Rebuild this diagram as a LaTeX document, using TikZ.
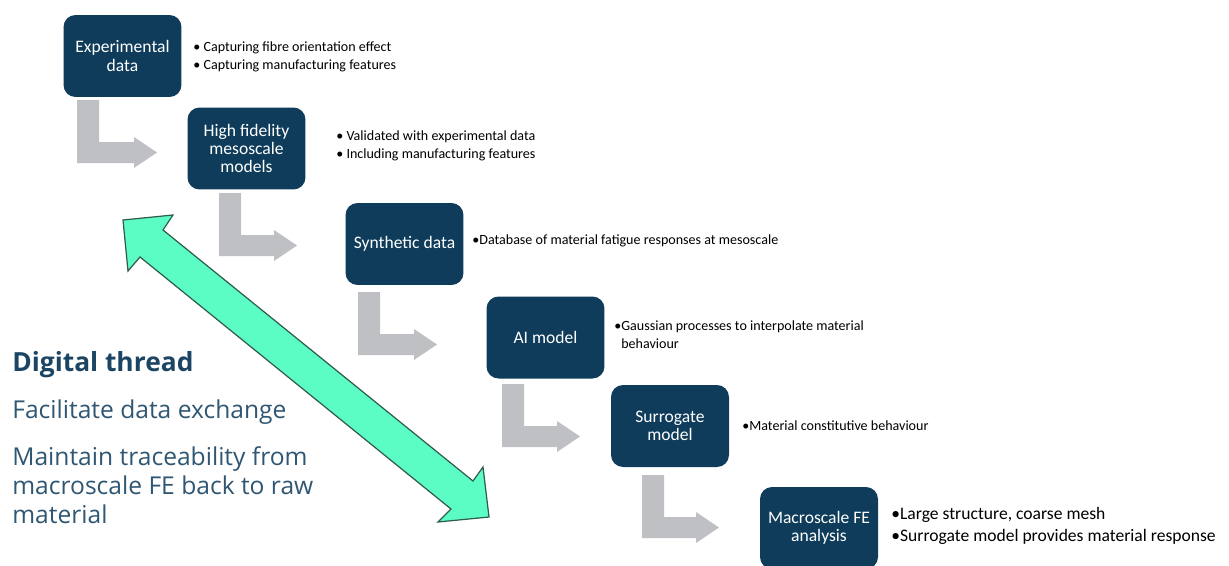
\documentclass[tikz,border=0pt]{standalone}
\usepackage{fontspec}
\setmainfont{Carlito}
\newfontfamily\threadfont{Open Sans}
\usetikzlibrary{positioning}
\definecolor{boxblue}{HTML}{0E3C5A}
\definecolor{arrowgrey}{HTML}{BEC0C4}
\definecolor{threadgreen}{HTML}{5CFDC4}
\definecolor{threadedge}{HTML}{2F5C4C}
\definecolor{titleblue}{HTML}{1B4563}
\definecolor{textblue}{HTML}{2F5672}
\tikzset{
  stage/.style={fill=boxblue, rounded corners=0.24cm, text=white, minimum width=2.36cm,
    minimum height=1.64cm, align=center, inner sep=2pt, font=\fontsize{10}{10.5}\selectfont},
  note/.style={anchor=west, align=left, inner sep=0pt, font=\fontsize{8}{10.2}\selectfont},
  side/.style={align=left, inner sep=0pt, text=textblue, font=\threadfont\fontsize{14}{16.7}\selectfont},
}
% grey elbow arrow: stem left x, stem top y, tip x
\newcommand{\elbow}[3]{
  \fill[arrowgrey] (#1,#2) -- (#1+22,#2) -- (#1+22,#2+42) -- (#3-23,#2+42) -- (#3-23,#2+37)
    -- (#3,#2+52.5) -- (#3-23,#2+68) -- (#3-23,#2+63) -- (#1,#2+63) -- cycle;
}
\begin{document}
\begin{tikzpicture}[x=0.02cm, y=-0.02cm]
  \useasboundingbox (0,0) rectangle (1229,565);

  \node [stage] (exp) at (122.5,56) {Experimental\\data};
  \node [stage] (meso) at (246.5,148.5) {High fidelity\\mesoscale\\models};
  \node [stage] (synth) at (404.5,244) {Synthetic data};
  \node [stage] (ai) at (545.5,337.5) {AI model};
  \node [stage] (surr) at (670,426) {Surrogate\\model};
  \node [stage] (macro) at (819,528) {Macroscale FE\\analysis};

  \node [note] (expnote) at (193,57) {\textbullet\ Capturing fibre orientation effect\\\textbullet\ Capturing manufacturing features};
  \node [note] (mesonote) at (336,146) {\textbullet\ Validated with experimental data\\\textbullet\ Including manufacturing features};
  \node [note] (synthnote) at (472,241) {\textbullet Database of material fatigue responses at mesoscale};
  \node [note] (ainote) at (614,335) {\textbullet Gaussian processes to interpolate material\\\phantom{\textbullet}behaviour};
  \node [note] (surrnote) at (742,426) {\textbullet Material constitutive behaviour};
  \node [note, font=\fontsize{10}{12.5}\selectfont] (macronote) at (891,526) {\textbullet Large structure, coarse mesh\\\textbullet Surrogate model provides material response};

  \elbow{77}{100}{157}
  \elbow{219}{193}{297}
  \elbow{358}{292}{437}
  \elbow{502}{384}{580}
  \elbow{642}{475}{719}

  \draw [threadedge, fill=threadgreen, line width=0.7pt, line join=miter]
    (123,220) -- (173,215) -- (163,230) -- (473,481) -- (483,467) -- (489,517)
    -- (438,522) -- (451,509) -- (140,257) -- (128,271) -- cycle;

  \node [side, anchor=base west, text=titleblue, font=\threadfont\bfseries\fontsize{15}{18}\selectfont] (title) at (12,371) {Digital thread};
  \node [side, anchor=base west] (exchange) at (12,418) {Facilitate data exchange};
  \node [side, anchor=north west] (trace) at (12,446) {Maintain traceability from\\macroscale FE back to raw\\material};
\end{tikzpicture}
\end{document}
